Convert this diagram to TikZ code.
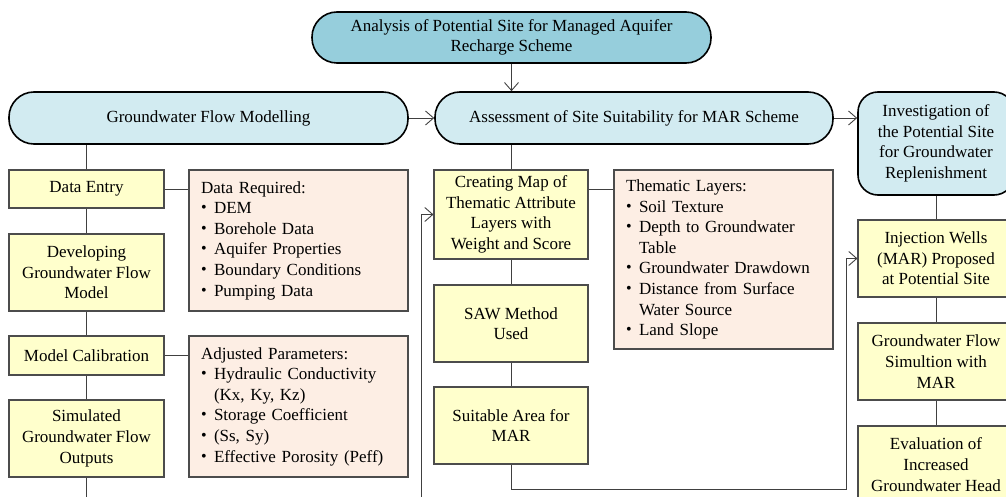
\documentclass[tikz,border=0pt]{standalone}
\usepackage{fontspec}
\setmainfont{Liberation Serif}
\usetikzlibrary{arrows.meta,calc}
\definecolor{topblue}{RGB}{150,206,220}
\definecolor{lightblue}{RGB}{210,235,241}
\definecolor{yel}{RGB}{255,255,204}
\definecolor{peach}{RGB}{253,238,228}
\newcommand\bl{\makebox[13pt][l]{\raisebox{1pt}{\fontsize{16}{16}\selectfont •}}}
\newcommand\ind{\hspace*{13pt}}
\begin{document}
\begin{tikzpicture}[x=1pt,y=-1pt,
  base/.style={font=\fontsize{17}{20.6}\selectfont, inner sep=0pt, align=center},
  pill/.style={base, draw=black, line width=1.6pt, fill=lightblue, rounded corners=25pt, minimum height=52pt},
  ybox/.style={base, draw=black!70, line width=1.1pt, fill=yel, minimum width=155pt},
  pbox/.style={base, draw=black!70, line width=1.1pt, fill=peach, align=left, text width=195pt, inner xsep=12pt},
  conn/.style={draw=black!75, line width=0.9pt},
  arr/.style={conn, -{Straight Barb[length=8pt,width=14pt]}}
]
\clip (0,0) rectangle (1006,497);
\fill[white] (0,0) rectangle (1006,497);

\node[pill, fill=topblue, minimum width=399pt, minimum height=51pt] (top) at (511.5,37.5)
  {Analysis of Potential Site for Managed Aquifer\\Recharge Scheme};
\node[pill, minimum width=399pt] (gfm) at (208.5,118) {Groundwater Flow Modelling};
\node[pill, minimum width=398pt] (ass) at (634,118) {Assessment of Site Suitability for MAR Scheme};
\node[pill, rounded corners=20pt, minimum width=156pt, minimum height=103pt] (inv) at (936,143.5)
  {Investigation of\\the Potential Site\\for Groundwater\\Replenishment};

\node[ybox, minimum height=38pt] (de) at (86.5,189) {Data Entry};
\node[pbox, minimum height=141pt] (dr) at (298.5,240.5)
  {Data Required:\\\bl DEM\\\bl Borehole Data\\\bl Aquifer Properties\\\bl Boundary Conditions\\\bl Pumping Data};
\node[ybox, minimum height=77pt] (dev) at (86.5,272.5) {Developing\\Groundwater Flow\\Model};
\node[ybox, minimum height=39pt] (mc) at (86.5,355.5) {Model Calibration};
\node[pbox, minimum height=141pt] (ap) at (298.5,406.5)
  {Adjusted Parameters:\\\bl Hydraulic Conductivity\\\ind (Kx, Ky, Kz)\\\bl Storage Coefficient\\\bl (Ss, Sy)\\\bl Effective Porosity (Peff)};
\node[ybox, minimum height=77pt] (sim) at (86.5,438.5) {Simulated\\Groundwater Flow\\Outputs};

\node[ybox, minimum width=154pt, minimum height=89pt] (cm) at (511,214.5)
  {Creating Map of\\Thematic Attribute\\Layers with\\Weight and Score};
\node[pbox, minimum height=179pt] (tl) at (723.5,259.5)
  {Thematic Layers:\\\bl Soil Texture\\\bl Depth to Groundwater\\\ind Table\\\bl Groundwater Drawdown\\\bl Distance from Surface\\\ind Water Source\\\bl Land Slope};
\node[ybox, minimum width=154pt, minimum height=77pt] (saw) at (511,323.5) {SAW Method\\Used};
\node[ybox, minimum width=154pt, minimum height=77pt] (sa) at (511,425.5) {Suitable Area for\\MAR};

\node[ybox, minimum width=156pt, minimum height=77pt] (iw) at (936,258.5)
  {Injection Wells\\(MAR) Proposed\\at Potential Site};
\node[ybox, minimum width=156pt, minimum height=77pt] (gfs) at (936,361.5)
  {Groundwater Flow\\Simultion with\\MAR};
\node[ybox, minimum width=156pt, minimum height=77pt] (ev) at (936,464.5)
  {Evaluation of\\Increased\\Groundwater Head};

\coordinate (simend) at (86.5,505);
\coordinate (leftin) at (421,505);
\coordinate (turn) at (846,489);

% connectors
\draw[arr] (top.south) -- (top.south |- ass.north);
\draw[arr] (gfm.east) -- (ass.west);
\draw[arr] (ass.east) -- (ass.east -| inv.west);
\draw[conn] (de.north |- gfm.south) -- (de.north);
\draw[conn] (de.south) -- (dev.north);
\draw[conn] (dev.south) -- (mc.north);
\draw[conn] (mc.south) -- (sim.north);
\draw[conn] (sim.south) -- (simend);
\draw[conn] (de.east) -- (dr.west |- de.east);
\draw[conn] (mc.east) -- (ap.west |- mc.east);
\draw[conn] (cm.north |- ass.south) -- (cm.north);
\draw[conn] (cm.south) -- (saw.north);
\draw[conn] (saw.south) -- (sa.north);
\draw[conn] (cm.east |- de.east) -- (tl.west |- de.east);
\draw[arr] (leftin) |- (cm.west);
\draw[arr] (sa.south) |- (turn) |- (iw.west);
\draw[conn] (iw.north |- inv.south) -- (iw.north);
\draw[conn] (iw.south) -- (gfs.north);
\draw[conn] (gfs.south) -- (ev.north);
\end{tikzpicture}
\end{document}
